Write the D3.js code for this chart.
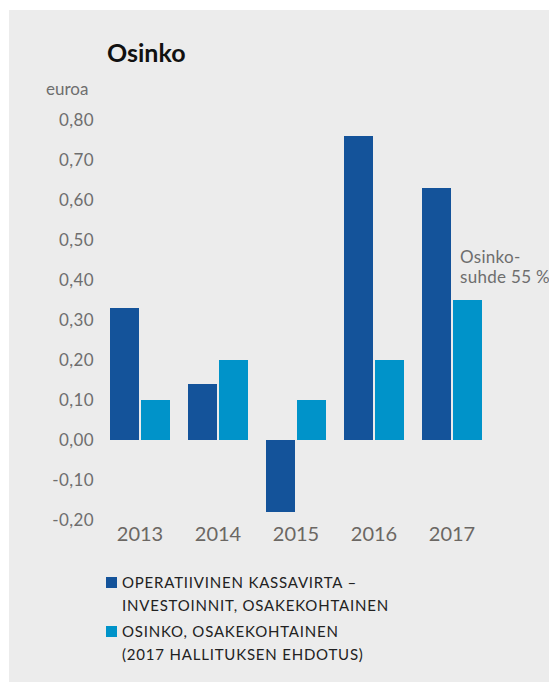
<!DOCTYPE html>
<html>
<head>
<meta charset="utf-8">
<script src="https://cdn.jsdelivr.net/npm/d3@7"></script>
<style>
  body { margin: 0; background: #fff; }
  svg { display: block; font-family: Lato, "Open Sans", sans-serif; }
</style>
</head>
<body>
<svg id="chart"></svg>
<script>
// data
const years = ['2013', '2014', '2015', '2016', '2017'];
const cashFlow = [0.33, 0.14, -0.18, 0.76, 0.63];
const dividend = [0.10, 0.20, 0.10, 0.20, 0.35];
const yTicks = [-0.2, -0.1, 0, 0.1, 0.2, 0.3, 0.4, 0.5, 0.6, 0.7, 0.8];
const seriesNames = ['cashFlow', 'dividend'];
const legendLines = [
  ['OPERATIIVINEN KASSAVIRTA –', 'INVESTOINNIT, OSAKEKOHTAINEN'],
  ['OSINKO, OSAKEKOHTAINEN', '(2017 HALLITUKSEN EHDOTUS)']
];

const width = 549, height = 682;
const colors = { cashFlow: '#14539a', dividend: '#0093c9' };

const svg = d3.select('#chart')
  .attr('width', width)
  .attr('height', height);

svg.append('rect')
  .attr('x', 9).attr('y', 10)
  .attr('width', width - 9).attr('height', height - 10)
  .attr('fill', '#ececec');

svg.append('text')
  .attr('x', 107).attr('y', 62)
  .attr('font-size', 25).attr('font-weight', 700)
  .attr('fill', '#111')
  .text('Osinko');

svg.append('text')
  .attr('x', 46).attr('y', 95)
  .attr('font-size', 17)
  .attr('fill', '#6e6e6e')
  .text('euroa');

const yScale = d3.scaleLinear()
  .domain([-0.2, 0.8])
  .range([520, 120]);

const x0 = d3.scaleBand()
  .domain(years)
  .range([101, 491])
  .paddingInner(18 / 78)
  .paddingOuter(9 / 78);

const x1 = d3.scaleBand()
  .domain(seriesNames)
  .range([0, x0.bandwidth()])
  .paddingInner(2 / 31);

const fmt = v => d3.format('.2f')(v).replace('.', ',').replace('−', '-');

const yAxis = svg.append('g')
  .attr('transform', 'translate(94,0)')
  .call(d3.axisLeft(yScale).tickValues(yTicks).tickSize(0).tickPadding(0).tickFormat(fmt));
yAxis.select('.domain').remove();
yAxis.selectAll('text')
  .attr('font-size', 17)
  .attr('font-family', 'Lato, sans-serif')
  .attr('letter-spacing', 0.4)
  .attr('fill', '#6e6e6e');

const xAxis = svg.append('g')
  .attr('transform', 'translate(0,527)')
  .call(d3.axisBottom(x0).tickSize(0).tickPadding(0));
xAxis.select('.domain').remove();
xAxis.selectAll('text')
  .attr('font-size', 20)
  .attr('font-family', 'Lato, sans-serif')
  .attr('fill', '#6b6763')
  .attr('dy', '0.72em');

const rows = years.map((y, i) => ({ year: y, cashFlow: cashFlow[i], dividend: dividend[i] }));

const groups = svg.selectAll('.group')
  .data(rows)
  .enter()
  .append('g')
  .attr('class', 'group')
  .attr('transform', d => `translate(${x0(d.year)},0)`);

groups.selectAll('rect')
  .data(d => seriesNames.map(k => ({ key: k, value: d[k] })))
  .enter()
  .append('rect')
  .attr('x', d => x1(d.key))
  .attr('width', x1.bandwidth())
  .attr('y', d => yScale(Math.max(0, d.value)))
  .attr('height', d => Math.abs(yScale(d.value) - yScale(0)))
  .attr('fill', d => colors[d.key]);

// payout ratio note next to 2017
const note = svg.append('text')
  .attr('x', 460).attr('y', 263)
  .attr('font-size', 17)
  .attr('letter-spacing', 0.3)
  .attr('fill', '#6e6e6e');
note.append('tspan').attr('x', 460).text('Osinko-');
note.append('tspan').attr('x', 460).attr('dy', 20).text('suhde 55 %');

const legend = svg.selectAll('.legend')
  .data(seriesNames)
  .enter()
  .append('g')
  .attr('class', 'legend')
  .attr('transform', (d, i) => `translate(106,${577 + i * 49})`);

legend.append('rect')
  .attr('width', 11).attr('height', 11)
  .attr('fill', d => colors[d]);

legend.append('text')
  .attr('x', 16).attr('y', 10.5)
  .attr('font-size', 15)
  .attr('fill', '#222')
  .attr('letter-spacing', 0.8)
  .selectAll('tspan')
  .data((d, i) => legendLines[i])
  .enter()
  .append('tspan')
  .attr('x', 16)
  .attr('dy', (d, j) => j === 0 ? 0 : 23.5)
  .text(d => d);
</script>
</body>
</html>
